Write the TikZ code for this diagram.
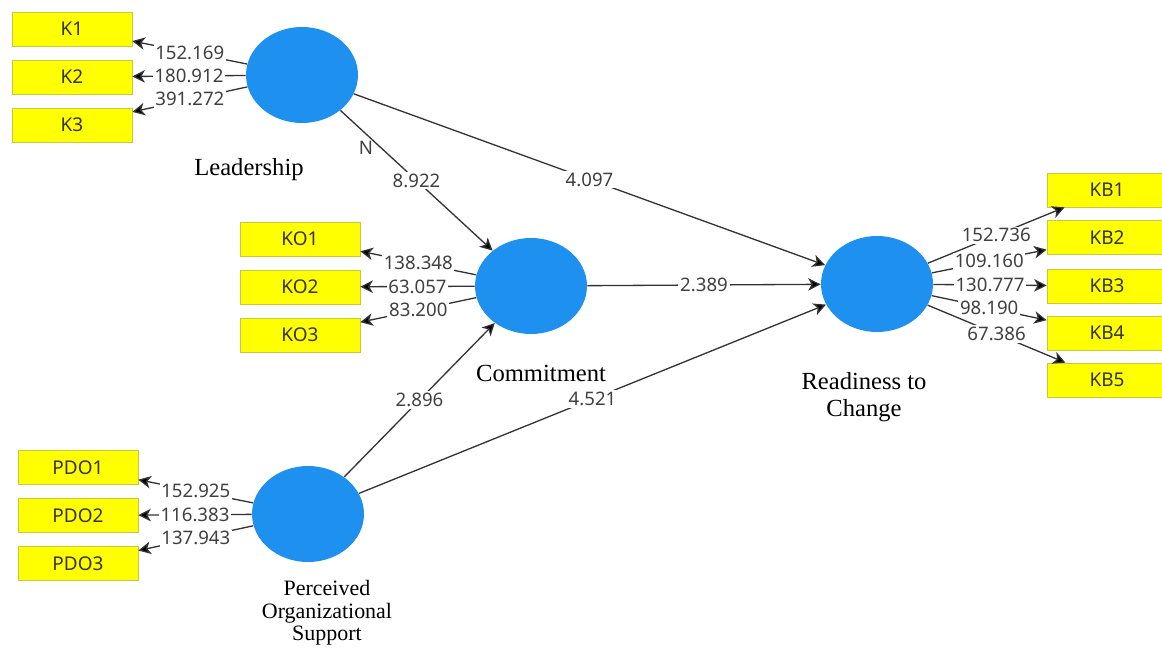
\documentclass[tikz,border=0pt]{standalone}
\usepackage{fontspec}
\setmainfont{Liberation Serif}
\setsansfont{Noto Sans}
\usepackage{xcolor}
\usepackage{tikz}
\usetikzlibrary{arrows.meta, positioning, shapes.geometric}
\definecolor{lvblue}{RGB}{30,144,240}
\definecolor{indyellow}{RGB}{255,255,0}
\definecolor{indborder}{RGB}{200,200,60}
\definecolor{valgray}{RGB}{64,64,64}

\begin{document}
\begin{tikzpicture}[x=0.02cm, y=-0.02cm,
  lv/.style={ellipse, fill=lvblue, minimum width=2.24cm, minimum height=1.92cm, inner sep=0pt},
  ind/.style={rectangle, draw=indborder, fill=indyellow, minimum width=2.4cm, minimum height=0.68cm, inner sep=0pt, font=\sffamily\fontsize{10.8}{12}\selectfont, text=black!80},
  arr/.style={-{Stealth[length=2.5mm, width=2.5mm, inset=0.7mm, fill=black]}, draw=black!80, line width=0.75pt},
  val/.style={fill=white, inner sep=1pt, font=\sffamily\fontsize{10.6}{12}\selectfont, text=valgray},
  lvname/.style={font=\fontsize{14}{15.5}\selectfont, align=center}
]
  \useasboundingbox (0,0) rectangle (1162,648);

  % latent variables
  \node[lv] (L) at (302,75) {};
  \node[lv] (C) at (531,286) {};
  \node[lv] (R) at (877,284) {};
  \node[lv] (P) at (308,514) {};

  \node[lvname] (Lname) at (249,170) {Leadership};
  \node[lvname] (Cname) at (541,373) {Commitment};
  \node[lvname] (Rname) at (864,397) {Readiness to\\Change};
  \node[lvname, font=\fontsize{12.5}{12.8}\selectfont] (Pname) at (327,613) {Perceived\\Organizational\\Support};

  % indicators
  \foreach \i/\y/\v in {1/29/152.169, 2/77/180.912, 3/125/391.272}{
    \node[ind] (K\i) at (72,\y) {K\i};
    \draw[arr] (L) -- node[val] {\v} (K\i);
  }
  \foreach \i/\y/\v in {1/239/138.348, 2/287/63.057, 3/335/83.200}{
    \node[ind] (KO\i) at (300,\y) {KO\i};
    \draw[arr] (C) -- node[val] {\v} (KO\i);
  }
  \foreach \i/\y/\v in {1/190/152.736, 2/237.5/109.160, 3/286/130.777, 4/333/98.190, 5/380/67.386}{
    \node[ind] (KB\i) at (1107,\y) {KB\i};
    \draw[arr] (R) -- node[val] {\v} (KB\i);
  }
  \foreach \i/\y/\v in {1/467.5/152.925, 2/515.5/116.383, 3/563.5/137.943}{
    \node[ind] (PDO\i) at (78,\y) {PDO\i};
    \draw[arr] (P) -- node[val] {\v} (PDO\i);
  }

  % paths
  \draw[arr] (L) -- node[val] {8.922} (C);
  \draw[arr] (L) -- node[val] {4.097} (R);
  \draw[arr] (C) -- node[val] {2.389} (R);
  \draw[arr] (P) -- node[val] {2.896} (C);
  \draw[arr] (P) -- node[val] {4.521} (R);

  \node[font=\sffamily\fontsize{10.6}{12}\selectfont, text=valgray] (N) at (366,148) {N};
\end{tikzpicture}
\end{document}
